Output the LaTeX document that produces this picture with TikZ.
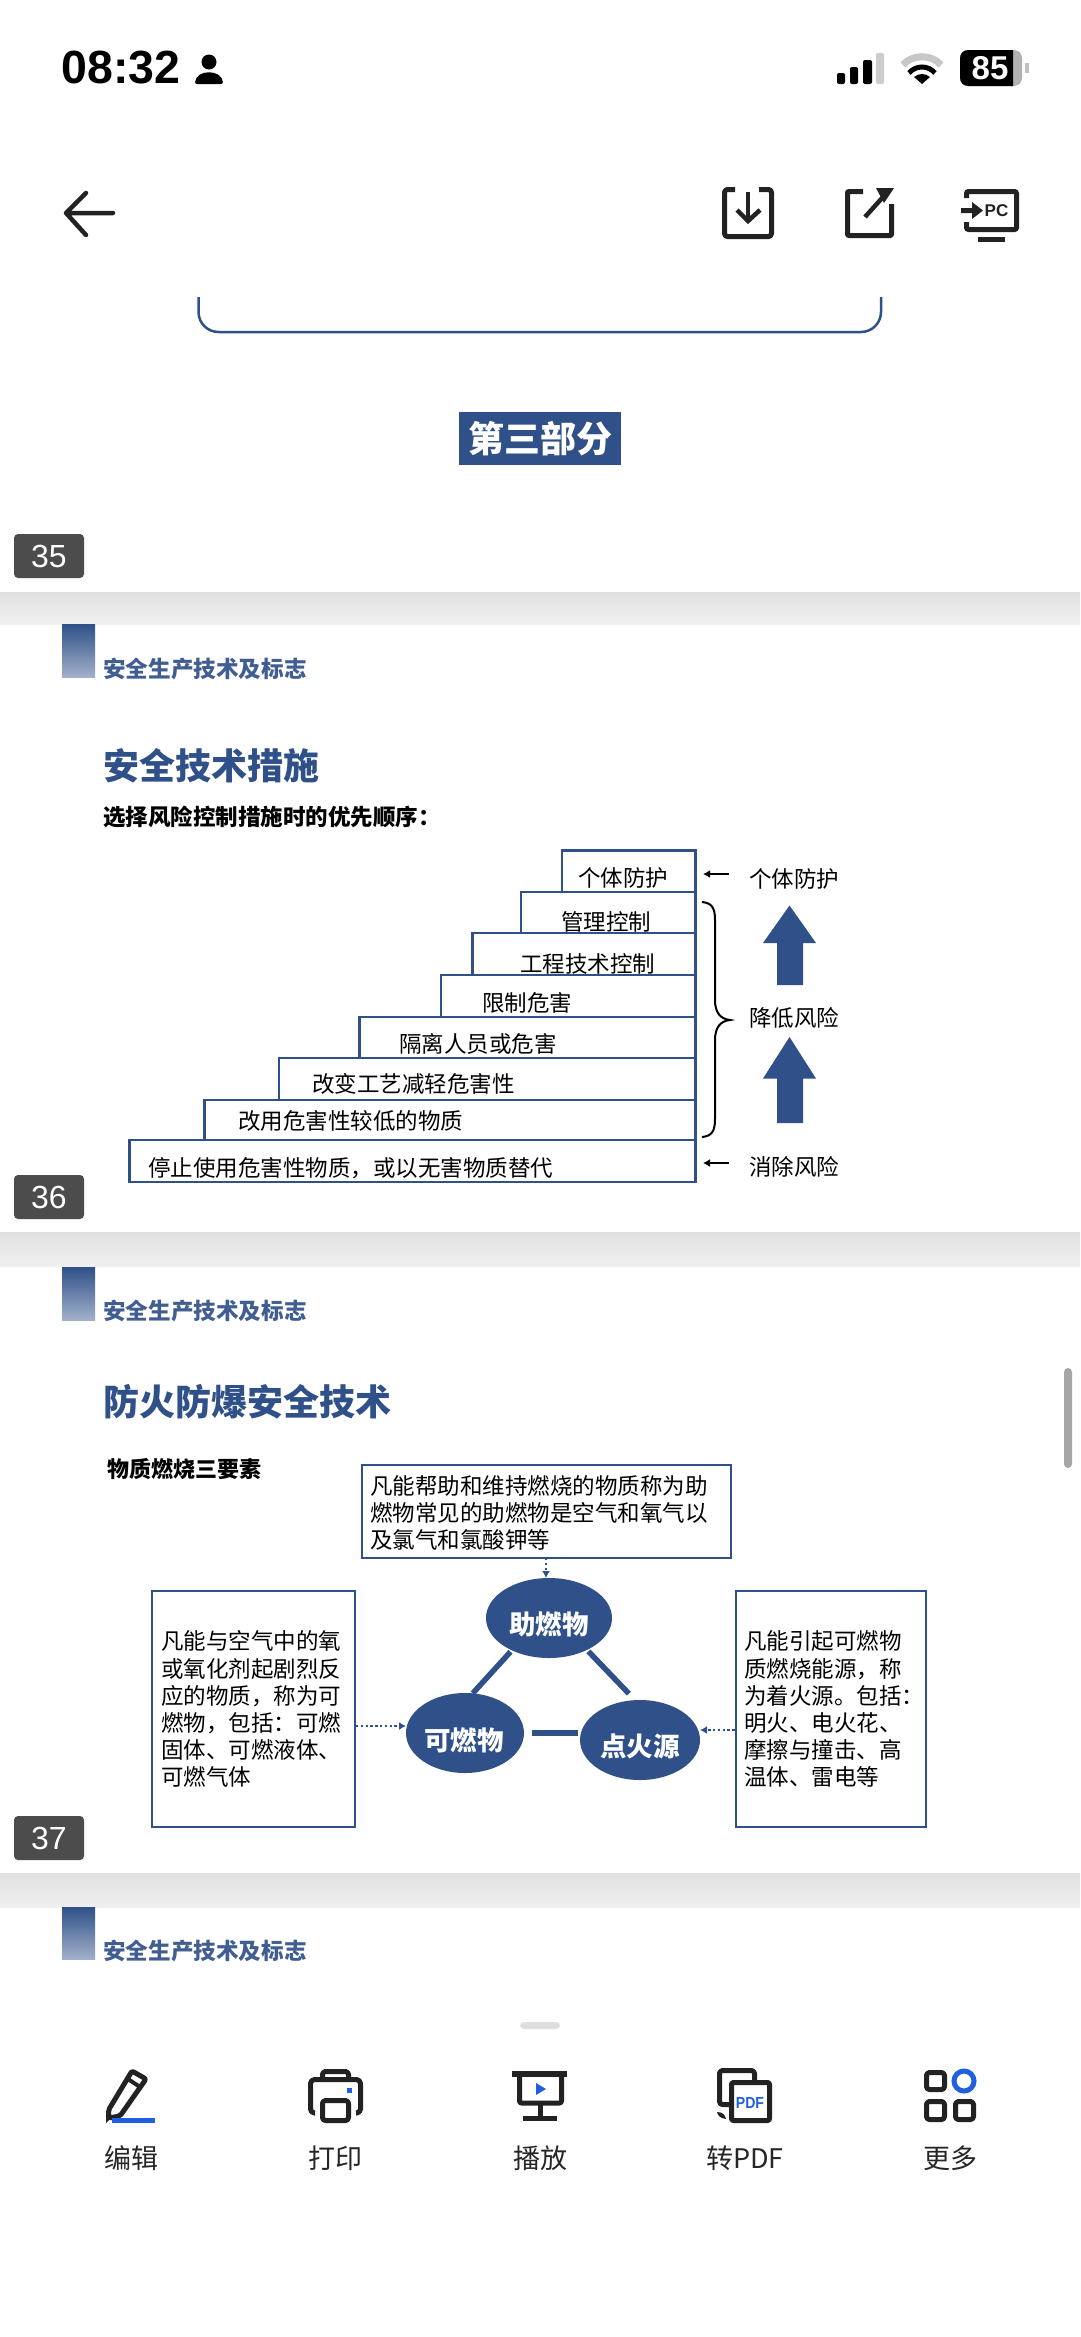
\documentclass[tikz,border=0pt]{standalone}
\usepackage{fontspec}
\setmainfont{Liberation Sans}
\newfontfamily\cjk{Noto Sans CJK SC}
\usetikzlibrary{shapes.geometric,arrows.meta,calc}
\definecolor{navy}{HTML}{2F5089}
\definecolor{icon}{HTML}{222222}
\definecolor{iblue}{HTML}{1F5FE0}
\tikzset{
 x=1pt,y=-1pt,
 body/.style={font=\fontsize{22.5}{22.5}\selectfont\cjk,text=black,inner sep=0pt,anchor=west},
 head/.style={font=\fontsize{22.6}{22.6}\selectfont\cjk\bfseries,text=navy!92,inner sep=0pt,anchor=west},
 ttl/.style={font=\fontsize{36}{36}\selectfont\cjk\bfseries,text=navy,inner sep=0pt,anchor=west},
 sub/.style={font=\fontsize{22.5}{22.5}\selectfont\cjk\bfseries,text=black,inner sep=0pt,anchor=west},
 tag/.style={fill=black!70,rounded corners=4pt,text=white,font=\fontsize{32}{32}\selectfont,inner sep=0pt,minimum width=70pt,minimum height=44pt},
 stepbox/.style={draw=navy,line width=2.6pt,fill=white},
 infobox/.style={draw=navy,line width=2pt,fill=white},
 blob/.style={ellipse,fill=navy,inner sep=0pt,outer sep=0pt},
 blobtxt/.style={font=\fontsize{26.5}{26.5}\selectfont\cjk\bfseries,text=white,inner sep=0pt},
 link/.style={draw=navy,line width=5.5pt},
 dots/.style={draw=navy,line width=2.4pt,dash pattern=on 2.4pt off 2.4pt,-{Latex[length=7pt,width=8pt]}},
 blockup/.style={fill=navy,draw=none},
 band/.style={top color=black!12,bottom color=black!6,draw=none},
 ico/.style={draw=icon,line width=5pt,line join=round},
 tb/.style={font=\fontsize{27}{27}\selectfont\cjk,text=black!85,inner sep=0pt},
}
\begin{document}
\begin{tikzpicture}
\useasboundingbox (0,0) rectangle (1080,2337);
\fill[white] (0,0) rectangle (1080,2337);
% status bar
\node[inner sep=0pt,font=\fontsize{46.5}{46.5}\selectfont\bfseries] (time) at (121,68) {08:32};
\fill[black] (209,62) circle (7.5);
\fill[black,rounded corners=2pt] (195,84) .. controls (196,69) and (222,69) .. (223,84) -- cycle;
% signal
\fill[black,rounded corners=2pt] (837,73) rectangle (845,84);
\fill[black,rounded corners=2pt] (850,67) rectangle (858,84);
\fill[black,rounded corners=2pt] (863,60) rectangle (872,84);
\fill[black!20,rounded corners=2pt] (876,53) rectangle (884,84);
% wifi
\draw[black!22,line width=7pt] (903,65) .. controls (912,54) and (932,54) .. (941,65);
\draw[black,line width=5pt] (909,73) .. controls (916,65) and (928,65) .. (935,73);
\fill[black] (922,84) -- (914,77) .. controls (919,73) and (925,73) .. (930,77) -- cycle;
% battery
\fill[black!30,rounded corners=8pt] (960,50) rectangle (1022,86);
\begin{scope}
\clip (960,50) rectangle (1013,86);
\fill[black,rounded corners=8pt] (960,50) rectangle (1030,86);
\end{scope}
\fill[black!25] (1025,63) rectangle (1029,73);
\node[inner sep=0pt,text=white,font=\fontsize{33}{33}\selectfont\bfseries] (batt) at (990,68) {85};
% nav
\draw[icon,line width=4.5pt,line cap=round,line join=round] (113,213) -- (66,213) (86,193) -- (66,213) -- (86,235);
\draw[icon,line width=5pt,line join=round,rounded corners=3pt] (735,189.5) -- (724.5,189.5) -- (724.5,236.5) -- (771.5,236.5) -- (771.5,189.5) -- (759,189.5);
\draw[icon,line width=4.5pt] (748,192) -- (748,220);
\draw[icon,line width=4.5pt] (737,210) -- (748,221) -- (760,210);
\draw[icon,line width=5pt,line join=round,rounded corners=1pt] (863,191.5) -- (847.5,191.5) -- (847.5,235.5) -- (891.5,235.5) -- (891.5,204);
\draw[icon,line width=4.5pt] (865,217) -- (883,197);
\fill[icon] (876,188) -- (894,188) -- (884,203) -- cycle;
\draw[icon,line width=5pt,rounded corners=2pt] (966.5,198) -- (966.5,191.5) -- (1016.5,191.5) -- (1016.5,229.5) -- (966.5,229.5) -- (966.5,222);
\fill[icon] (961,208) -- (972,208) -- (972,202) -- (983,210.5) -- (972,219) -- (972,213) -- (961,213) -- cycle;
\node[inner sep=0pt,font=\fontsize{17}{17}\selectfont\bfseries,text=icon] (pc) at (996.5,211) {PC};
\fill[icon] (978,237) rectangle (1005,242);
% slide 35 remains
\draw[navy,line width=2.5pt,rounded corners=20pt] (198.5,297) -- (198.5,332) -- (881,332) -- (881,297);
\node[fill=navy,text=white,font=\fontsize{36}{36}\selectfont\cjk\bfseries,inner sep=0pt,minimum width=162pt,minimum height=53pt] (part) at (540,438.5) {第三部分};
\node[tag] (t35) at (49,556) {35};
% bands
\shade[band] (0,592) rectangle (1080,624);
\shade[band] (0,1232) rectangle (1080,1266);
\shade[band] (0,1873) rectangle (1080,1907);
% slide 36
\shade[top color=navy,bottom color=navy!45] (62,624) rectangle (95,677);
\node[head] (h36) at (103,669) {安全生产技术及标志};
\node[ttl] (tt36) at (103,766) {安全技术措施};
\node[sub] (st36) at (103,817) {选择风险控制措施时的优先顺序：};
\draw[stepbox] (562,850.5) rectangle (695.5,892);
\draw[stepbox] (521,892) rectangle (695.5,933);
\draw[stepbox] (472.5,933) rectangle (695.5,975);
\draw[stepbox] (441,975) rectangle (695.5,1017);
\draw[stepbox] (359.5,1017) rectangle (695.5,1058);
\draw[stepbox] (279,1058) rectangle (695.5,1100);
\draw[stepbox] (204.5,1100) rectangle (695.5,1140);
\draw[stepbox] (129.5,1140) rectangle (695.5,1182);
\node[body] (s1) at (578,878) {个体防护};
\node[body] (s2) at (561,922) {管理控制};
\node[body] (s3) at (520,964) {工程技术控制};
\node[body] (s4) at (482,1003) {限制危害};
\node[body] (s5) at (399,1044) {隔离人员或危害};
\node[body] (s6) at (312,1084) {改变工艺减轻危害性};
\node[body] (s7) at (238,1121) {改用危害性较低的物质};
\node[body] (s8) at (148,1168) {停止使用危害性物质，或以无害物质替代};
\node[body] (r1) at (749,879) {个体防护};
\node[body] (r2) at (749,1018) {降低风险};
\node[body] (r3) at (749,1167) {消除风险};
\coordinate (a1) at (729,874); \coordinate (a1e) at (703,874);
\coordinate (a3) at (729,1163); \coordinate (a3e) at (703,1163);
\draw[line width=2.4pt,-{Latex[length=7pt,width=8pt]}] (a1) -- (a1e);
\draw[line width=2.4pt,-{Latex[length=7pt,width=8pt]}] (a3) -- (a3e);
\draw[black,line width=2pt] (702,902) .. controls (712,903) and (715,908) .. (715,920) -- (715,1000) .. controls (715,1012) and (720,1019) .. (730,1020) .. controls (720,1021) and (715,1028) .. (715,1040) -- (715,1119) .. controls (715,1131) and (712,1136) .. (702,1137);
\fill[blockup] (789.5,905.5) -- (816,943) -- (803,943) -- (803,985) -- (777,985) -- (777,943) -- (763,943) -- cycle;
\fill[blockup] (789.5,1037) -- (816,1078.5) -- (803,1078.5) -- (803,1123) -- (777,1123) -- (777,1078.5) -- (763,1078.5) -- cycle;
\node[tag] (t36) at (49,1197) {36};
% slide 37
\shade[top color=navy,bottom color=navy!45] (62,1267) rectangle (95,1320);
\node[head] (h37) at (103,1311) {安全生产技术及标志};
\node[ttl] (tt37) at (103,1402) {防火防爆安全技术};
\node[sub,font=\fontsize{22}{22}\selectfont\cjk\bfseries] (st37) at (107,1469) {物质燃烧三要素};
\draw[infobox] (361.5,1465) rectangle (731,1558);
\coordinate (topb) at (546,1558);
\node[body] at (370,1486) {凡能帮助和维持燃烧的物质称为助};
\node[body] at (370,1513) {燃物常见的助燃物是空气和氧气以};
\node[body] at (370,1540) {及氯气和氯酸钾等};
\draw[infobox] (151.5,1591) rectangle (355,1826.5);
\coordinate (leftb) at (356,1726);
\node[body] at (161,1641) {凡能与空气中的氧};
\node[body] at (161,1669) {或氧化剂起剧烈反};
\node[body] at (161,1696) {应的物质，称为可};
\node[body] at (161,1723) {燃物，包括：可燃};
\node[body] at (161,1750) {固体、可燃液体、};
\node[body] at (161,1777) {可燃气体};
\draw[infobox] (735.5,1591) rectangle (925.6,1826.5);
\coordinate (rightb) at (734.5,1730);
\node[body] at (744,1641) {凡能引起可燃物};
\node[body] at (744,1669) {质燃烧能源，称};
\node[body] at (744,1696) {为着火源。包括：};
\node[body] at (744,1723) {明火、电火花、};
\node[body] at (744,1750) {摩擦与撞击、高};
\node[body] at (744,1777) {温体、雷电等};
\node[blob,minimum width=126pt,minimum height=80pt] (zr) at (549,1618) {};
\node[blob,minimum width=118pt,minimum height=80pt] (kr) at (465,1733) {};
\node[blob,minimum width=120pt,minimum height=80pt] (dh) at (640,1740) {};
\node[blobtxt] at (549,1624) {助燃物};
\node[blobtxt] at (464,1740) {可燃物};
\node[blobtxt] at (640,1746.5) {点火源};
\draw[link,shorten <=2pt] (zr.-139) -- (kr.79);
\draw[link,shorten <=2pt,shorten >=9pt] (zr.-40) -- (dh.97);
\draw[link,shorten <=8pt,shorten >=2pt] (kr.east) -- (kr.east -| dh.west);
\draw[dots] (topb) -- (topb |- zr.north);
\draw[dots] (leftb) -- (leftb -| kr.west);
\draw[dots] (rightb) -- (rightb -| dh.east);
\node[tag] (t37) at (49,1838) {37};
\fill[black!35,rounded corners=4pt] (1064,1368) rectangle (1072,1468);
% slide 38
\shade[top color=navy,bottom color=navy!45] (62,1907) rectangle (95,1959);
\node[head] (h38) at (103,1951) {安全生产技术及标志};
\fill[black!13,rounded corners=4pt] (520,2022) rectangle (560,2029);
% toolbar: pencil
\draw[ico,rounded corners=2pt] (108.5,2118) -- (108.5,2110) -- (132,2071) -- (146,2079) -- (120,2116) -- cycle;
\draw[ico,line width=4pt] (128,2079) -- (140,2087);
\fill[iblue] (112,2118) rectangle (155,2123);
\fill[icon] (106,2116) -- (113,2116) -- (106,2123) -- cycle;
% printer
\draw[ico,rounded corners=4pt] (315,2113) -- (310.5,2113) -- (310.5,2079.5) -- (360.5,2079.5) -- (360.5,2113) -- (356,2113);
\draw[ico,rounded corners=3pt] (322.5,2079) -- (322.5,2071.5) -- (348.5,2071.5) -- (348.5,2079);
\draw[ico,rounded corners=3pt] (322.5,2100.5) rectangle (348.5,2120.5);
\fill[iblue] (347,2088) rectangle (352,2093);
% projector
\fill[icon] (512,2071) rectangle (567,2077);
\draw[ico,rounded corners=2pt] (519.5,2075) -- (519.5,2103) -- (561.5,2103) -- (561.5,2075);
\draw[ico] (540,2105) -- (540,2118);
\fill[icon] (523,2116) rectangle (557,2121);
\fill[iblue] (536,2083) -- (546,2089) -- (536,2095) -- cycle;
% pdf
\draw[ico,rounded corners=3pt] (729,2104.5) -- (719.5,2104.5) -- (719.5,2070.5) -- (754.5,2070.5) -- (754.5,2082);
\fill[icon] (717,2112) .. controls (723,2112) and (725,2115) .. (726,2119) .. controls (720,2118) and (718,2116) .. (717,2112) -- cycle;
\draw[ico,fill=white,rounded corners=2pt] (731.5,2082.5) rectangle (769.5,2120.5);
\node[inner sep=0pt,text=iblue,xscale=.88,font=\fontsize{16}{16}\selectfont\bfseries] (pdf) at (750,2102.5) {PDF};
% more
\draw[ico,rounded corners=3pt] (926.5,2072.5) rectangle (944.5,2089.5);
\draw[ico,rounded corners=3pt] (926.5,2101.5) rectangle (944.5,2119.5);
\draw[ico,rounded corners=3pt] (955.5,2101.5) rectangle (973.5,2119.5);
\draw[iblue,line width=5pt] (964,2081) ellipse[x radius=10,y radius=10];
\node[tb] (l1) at (131,2158) {编辑};
\node[tb] (l2) at (335,2158) {打印};
\node[tb] (l3) at (540,2158) {播放};
\node[tb] (l4) at (745,2158) {转PDF};
\node[tb] (l5) at (950,2158) {更多};
\end{tikzpicture}
\end{document}
